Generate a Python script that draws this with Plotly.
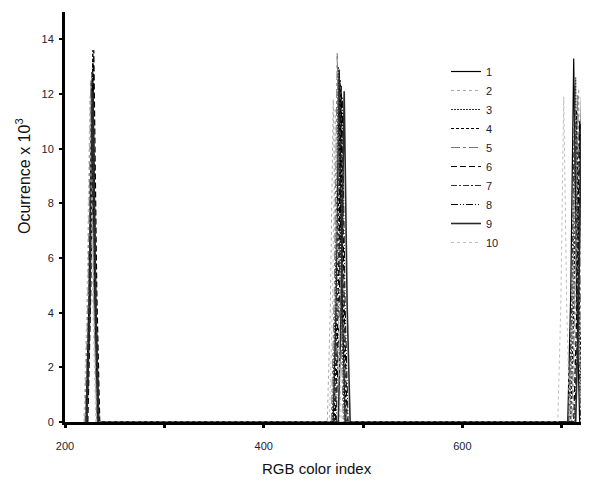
import plotly.graph_objects as go

# RGB color index (x) and occurrence x 10^3 (y) for each of the 10 series
series_names = ["1", "2", "3", "4", "5", "6", "7", "8", "9", "10"]

x1 = [221, 224, 227, 230, 233, 470, 473, 476, 479, 482, 706, 709, 712, 715, 718]
y1 = [0, 4.3, 12.2, 4.3, 0, 0, 4.5, 12.9, 4.5, 0, 0, 4.7, 13.3, 4.7, 0]
x2 = [220, 223, 226, 229, 232, 464, 467, 470, 473, 476, 711, 714, 717, 720, 723]
y2 = [0, 4.2, 12.0, 4.2, 0, 0, 4.1, 11.8, 4.1, 0, 0, 4.3, 12.2, 4.3, 0]
x3 = [222, 225, 228, 231, 234, 469, 472, 475, 478, 481, 708, 711, 714, 717, 720]
y3 = [0, 4.6, 13.2, 4.6, 0, 0, 4.6, 13.0, 4.6, 0, 0, 4.4, 12.6, 4.4, 0]
x4 = [222, 225, 228, 231, 234, 471, 474, 477, 480, 483, 709, 712, 715, 718, 721]
y4 = [0, 4.8, 13.6, 4.8, 0, 0, 4.4, 12.5, 4.4, 0, 0, 4.0, 11.4, 4.0, 0]
x5 = [220, 223, 226, 229, 232, 468, 471, 474, 477, 480, 710, 713, 716, 719, 722]
y5 = [0, 4.4, 12.5, 4.4, 0, 0, 4.7, 13.5, 4.7, 0, 0, 4.2, 12.0, 4.2, 0]
x6 = [223, 226, 229, 232, 235, 472, 475, 478, 481, 484, 712, 715, 718, 721, 724]
y6 = [0, 4.8, 13.6, 4.8, 0, 0, 4.3, 12.3, 4.3, 0, 0, 3.9, 11.0, 3.9, 0]
x7 = [221, 224, 227, 230, 233, 470, 473, 476, 479, 482, 707, 710, 713, 716, 719]
y7 = [0, 4.5, 12.8, 4.5, 0, 0, 4.4, 12.6, 4.4, 0, 0, 4.3, 12.3, 4.3, 0]
x8 = [222, 225, 228, 231, 234, 473, 476, 479, 482, 485, 713, 716, 719, 722, 725]
y8 = [0, 4.3, 12.4, 4.3, 0, 0, 4.2, 11.9, 4.2, 0, 0, 3.8, 10.9, 3.8, 0]
x9 = [222, 225, 228, 231, 234, 475, 478, 481, 484, 487, 714, 717, 720, 723, 726]
y9 = [0, 4.2, 12.1, 4.2, 0, 0, 4.2, 12.1, 4.2, 0, 0, 4.2, 11.9, 4.2, 0]
x10 = [219, 222, 225, 228, 231, 466, 469, 472, 475, 478, 696, 699, 702, 705, 708]
y10 = [0, 4.2, 11.9, 4.2, 0, 0, 4.0, 11.5, 4.0, 0, 0, 4.2, 11.9, 4.2, 0]

xs = [x1, x2, x3, x4, x5, x6, x7, x8, x9, x10]
ys = [y1, y2, y3, y4, y5, y6, y7, y8, y9, y10]

x_tickvals = [200, 300, 400, 500, 600, 700]
x_ticktext = ["200", "", "400", "", "600", ""]
y_tickvals = [0, 2, 4, 6, 8, 10, 12, 14]

styles = [
    dict(color="#000000", dash="solid", width=1.2),
    dict(color="#a8a8a8", dash="dot", width=1),
    dict(color="#333333", dash="2px,1px", width=1),
    dict(color="#000000", dash="3px,2px", width=1),
    dict(color="#777777", dash="dashdot", width=1),
    dict(color="#000000", dash="6px,3px", width=1.2),
    dict(color="#333333", dash="6px,2px,2px,2px", width=1),
    dict(color="#000000", dash="7px,2px,1px,2px,1px,2px", width=1),
    dict(color="#2a2a2a", dash="solid", width=1.6),
    dict(color="#bdbdbd", dash="dot", width=1),
]

fig = go.Figure()
for name, x, y, st in zip(series_names, xs, ys, styles):
    fig.add_trace(go.Scatter(x=x, y=y, mode="lines", name=name, line=st))

narrow = "Liberation Sans Narrow, Arial Narrow, Liberation Sans, sans-serif"
tick_font = dict(family=narrow, size=11, color="#222233")

# page body has an 8px margin, so the figure is offset by 8px
W, H = 581, 475
L, B, T = 57, 61, 4
PW, PH = W - L, H - T - B


def px_x(px):
    return (px - 8 - L) / PW


def px_y(py):
    return (H - B - (py - 8)) / PH


fig.update_layout(
    width=W, height=H,
    margin=dict(l=L, r=0, t=T, b=B),
    paper_bgcolor="white", plot_bgcolor="white",
    showlegend=True,
    legend=dict(x=px_x(446), y=px_y(57), xanchor="left", yanchor="top",
                font=dict(family=narrow, size=11, color="#1a1a33"),
                bgcolor="rgba(0,0,0,0)", borderwidth=0, itemwidth=30),
    xaxis=dict(range=[200, 727.4], tickvals=x_tickvals, ticktext=x_ticktext,
               showline=True, linecolor="black", linewidth=3,
               ticks="outside", ticklen=3, tickwidth=3, tickcolor="black",
               showgrid=False, zeroline=False, tickfont=tick_font,
               ticklabelstandoff=9),
    yaxis=dict(range=[0, 15], tickvals=y_tickvals,
               showline=True, linecolor="black", linewidth=3,
               ticks="outside", ticklen=3, tickwidth=2, tickcolor="black",
               showgrid=False, zeroline=False, tickfont=tick_font,
               ticklabelstandoff=3),
    annotations=[
        dict(text="RGB color index", xref="paper", yref="paper",
             x=px_x(317), y=px_y(468), xanchor="center", yanchor="middle",
             showarrow=False, font=dict(family="Liberation Sans, Arial, sans-serif", size=15, color="#111")),
        dict(text="Ocurrence x 10<sup>3</sup>", xref="paper", yref="paper",
             x=px_x(23), y=px_y(176), xanchor="center", yanchor="middle",
             textangle=-90, showarrow=False,
             font=dict(family="Liberation Sans, Arial, sans-serif", size=16, color="#111")),
    ],
)

fig.write_html("out.html")
